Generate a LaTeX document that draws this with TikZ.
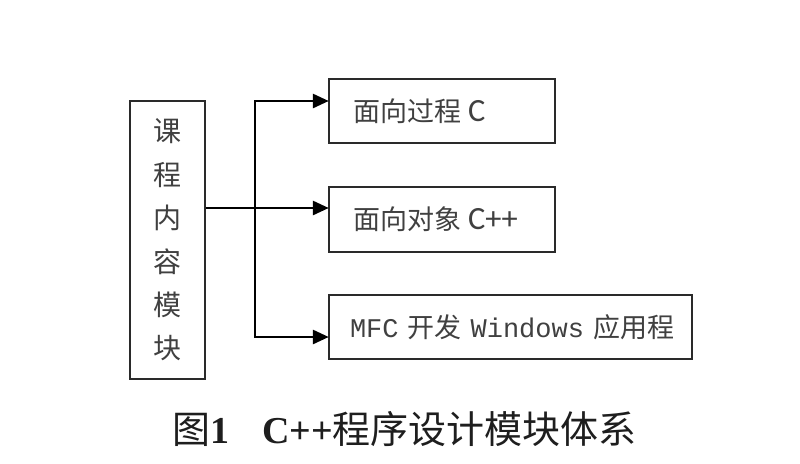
\documentclass[tikz,border=0pt]{standalone}
\usepackage{fontspec}
\setmainfont{Liberation Serif}
\newfontfamily\cjk{Noto Sans CJK SC}
\newfontfamily\latsans[Scale=1.2]{Carlito}
\newfontfamily\latmono{Liberation Mono}
\newfontfamily\capserif{Liberation Serif}
\usetikzlibrary{arrows.meta}
\definecolor{txt}{HTML}{404040}
\definecolor{edge}{HTML}{2A2A2A}
\definecolor{captxt}{HTML}{1E1E1E}
\tikzset{
  box/.style={draw=edge, line width=2.4pt, inner sep=0pt, text=txt,
    font=\fontsize{27}{30}\selectfont\cjk},
  conn/.style={draw=black, line width=2.8pt},
  arr/.style={conn, -{Triangle[length=16pt,width=14pt]}, shorten >=-1pt},
}
\begin{document}
\begin{tikzpicture}[x=1pt,y=-1pt]
\useasboundingbox (0,0) rectangle (800,463);
\fill[white] (0,0) rectangle (800,463);

\node[box, minimum width=75pt, minimum height=278pt, align=center,
  font=\fontsize{28}{43.4}\selectfont\cjk] (L) at (167.5,240)
  {课\\程\\内\\容\\模\\块};

\node[box, minimum width=226pt, minimum height=64pt, text width=178pt, align=left] (B1) at (442,111)
  {面向过程\hspace{7pt}{\latsans C}};
\node[box, minimum width=226pt, minimum height=65pt, text width=178pt, align=left] (B2) at (442,219.5)
  {面向对象\hspace{7pt}{\latsans C++}};
\node[box, minimum width=363pt, minimum height=64pt, text width=321pt, align=left] (B3) at (510.5,327)
  {\mbox{{\latmono MFC} 开发 {\latmono Windows} 应用程}};

\coordinate (J) at (255,208);
\coordinate (T1) at (255,101);
\coordinate (T3) at (255,337);

\draw[conn] (L.east |- J) -- (J);
\draw[conn, line cap=rect] (T1) -- (T3);
\draw[arr] (T1) -- (B1.west |- T1);
\draw[arr] (J) -- (B2.west |- J);
\draw[arr] (T3) -- (B3.west |- T3);

\node[anchor=west, inner sep=0pt, text=captxt, font=\fontsize{38}{40}\selectfont] (cap) at (172,429)
  {{\cjk 图}{\capserif\bfseries 1}\hspace{33pt}{\capserif\bfseries C++}{\cjk 程序设计模块体系}};
\end{tikzpicture}
\end{document}
